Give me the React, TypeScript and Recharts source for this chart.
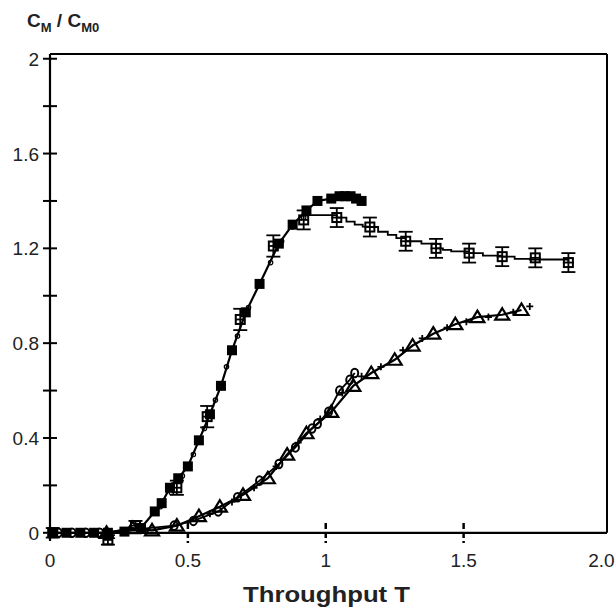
import React from 'react';
import {
  ComposedChart,
  Line,
  Scatter,
  XAxis,
  YAxis,
  ErrorBar,
  ReferenceLine,
} from 'recharts';

// filled squares (rising front, peak ~1.42)
const filledT = [0.01, 0.06, 0.11, 0.16, 0.21, 0.27, 0.33, 0.38, 0.405, 0.435, 0.465, 0.5, 0.54, 0.58, 0.62, 0.66, 0.71, 0.76, 0.83, 0.88, 0.93, 0.97, 1.02, 1.05, 1.07, 1.09, 1.11, 1.13];
const filledC = [0, 0, 0, 0, 0, 0.005, 0.02, 0.09, 0.125, 0.19, 0.23, 0.28, 0.39, 0.5, 0.62, 0.77, 0.93, 1.05, 1.22, 1.3, 1.36, 1.4, 1.41, 1.42, 1.42, 1.42, 1.41, 1.4];

// open squares with error bars
const openT = [0.01, 0.21, 0.31, 0.46, 0.57, 0.69, 0.81, 0.92, 1.04, 1.16, 1.29, 1.4, 1.52, 1.64, 1.76, 1.88];
const openC = [0, -0.03, 0.03, 0.19, 0.49, 0.9, 1.21, 1.32, 1.33, 1.29, 1.23, 1.2, 1.18, 1.165, 1.16, 1.14];
const openErrC = [0.02, 0.02, 0.02, 0.03, 0.045, 0.045, 0.045, 0.04, 0.04, 0.04, 0.04, 0.04, 0.04, 0.04, 0.04, 0.04];
const openErrT = [0.01, 0.015, 0.015, 0.015, 0.015, 0.015, 0.015, 0.015, 0.02, 0.02, 0.02, 0.02, 0.02, 0.02, 0.02, 0.02];

// stepped trace behind the open squares (plateau part)
const stepT = [0.92, 1.04, 1.075, 1.105, 1.134, 1.16, 1.19, 1.225, 1.256, 1.29, 1.347, 1.4, 1.425, 1.455, 1.52, 1.57, 1.64, 1.685, 1.74, 1.76, 1.88];
const stepC = [1.34, 1.33, 1.313, 1.3, 1.292, 1.29, 1.27, 1.257, 1.243, 1.23, 1.22, 1.2, 1.194, 1.187, 1.18, 1.169, 1.165, 1.156, 1.153, 1.153, 1.14];

// small open circles riding the first front
const trace1T = [0.4, 0.44, 0.48, 0.52, 0.56, 0.6, 0.64, 0.68, 0.72, 0.76, 0.8, 0.84, 0.88, 0.92];
const trace1C = [0.11, 0.17, 0.24, 0.33, 0.44, 0.56, 0.7, 0.83, 0.95, 1.05, 1.14, 1.23, 1.29, 1.33];

// open triangles (second front)
const triT = [0.205, 0.3, 0.37, 0.46, 0.54, 0.616, 0.7, 0.79, 0.86, 0.93, 1.02, 1.1, 1.165, 1.25, 1.315, 1.39, 1.47, 1.55, 1.64, 1.71];
const triC = [0.0, 0.02, 0.01, 0.03, 0.07, 0.11, 0.16, 0.23, 0.33, 0.42, 0.51, 0.62, 0.674, 0.73, 0.79, 0.84, 0.88, 0.91, 0.92, 0.94];

// open circles (second front)
const circT = [0.03, 0.08, 0.13, 0.18, 0.45, 0.52, 0.61, 0.68, 0.76, 0.83, 0.89, 0.95, 0.97, 1.01, 1.05, 1.087, 1.105];
const circC = [0, 0, 0, 0, 0.03, 0.05, 0.09, 0.15, 0.22, 0.29, 0.36, 0.44, 0.46, 0.51, 0.6, 0.645, 0.674];

// small crosses on the second front
const crossT = [0.58, 0.66, 0.74, 0.82, 0.9, 0.98, 1.06, 1.13, 1.2, 1.28, 1.35, 1.44, 1.51, 1.59, 1.68, 1.74];
const crossC = [0.08, 0.13, 0.19, 0.28, 0.38, 0.48, 0.59, 0.66, 0.7, 0.77, 0.82, 0.865, 0.89, 0.91, 0.93, 0.955];

const xTicks = [0, 0.5, 1, 1.5, 2];
const xTickLabels = ['0', '0.5', '1', '1.5', '2.0'];
const yTicks = [0, 0.2, 0.4, 0.6, 0.8, 1, 1.2, 1.4, 1.6, 1.8, 2];
const yTickLabels = ['0', '', '0.4', '', '0.8', '', '1.2', '', '1.6', '', '2'];

const zip = (t: number[], c: number[]) => t.map((v, i) => ({ t: v, c: c[i] }));

const filledData = zip(filledT, filledC);
const openData = openT.map((v, i) => ({ t: v, c: openC[i], ey: openErrC[i], ex: openErrT[i] }));
const stepData = zip(stepT, stepC);
const trace1Data = zip(trace1T, trace1C);
const triData = zip(triT, triC);
const circData = zip(circT, circC);
const crossData = zip(crossT, crossC);

const FONT = '"Liberation Sans", Arial, sans-serif';

const FilledSquare = (p: any) => (
  <rect x={p.cx - 5} y={p.cy - 5} width={10} height={10} fill="#000" />
);
const OpenSquare = (p: any) => (
  <rect x={p.cx - 4.5} y={p.cy - 4.5} width={9} height={9} fill="none" stroke="#000" strokeWidth={2} />
);
const Triangle = (p: any) => (
  <path
    d={`M${p.cx},${p.cy - 6.5} L${p.cx + 7},${p.cy + 5} L${p.cx - 7},${p.cy + 5} Z`}
    fill="none"
    stroke="#000"
    strokeWidth={2.2}
  />
);
const Circle = (p: any) => (
  <ellipse cx={p.cx} cy={p.cy} rx={3.5} ry={4.3} fill="none" stroke="#000" strokeWidth={2} />
);
const SmallCircle = (p: any) => (
  <circle cx={p.cx} cy={p.cy} r={2.2} fill="none" stroke="#000" strokeWidth={1.2} />
);
const Cross = (p: any) => (
  <path d={`M${p.cx - 3.5},${p.cy} H${p.cx + 3.5} M${p.cx},${p.cy - 3.5} V${p.cy + 3.5}`} stroke="#000" strokeWidth={1.8} />
);

const renderYTick = (props: any) => {
  const { x, y, payload } = props;
  const i = yTicks.indexOf(payload.value);
  return (
    <g>
      <line x1={x - 7} x2={x + 7} y1={y} y2={y} stroke="#000" strokeWidth={2} />
      {yTickLabels[i] ? (
        <text x={x - 11} y={y} dy={7} textAnchor="end" fontSize={19} fontFamily={FONT} fill="#222">
          {yTickLabels[i]}
        </text>
      ) : null}
    </g>
  );
};

const renderXTick = (props: any) => {
  const { x, y, payload } = props;
  const i = xTicks.indexOf(payload.value);
  const y0 = y - 14; // where C = 0 sits
  const inner = payload.value > 0 && payload.value < 2;
  return (
    <g>
      {inner ? (
        <line x1={x} x2={x} y1={y0 - 10} y2={y0 + 10} stroke="#000" strokeWidth={2.5} strokeDasharray="6 3" />
      ) : null}
      <text x={x} y={y0 + 34} textAnchor="middle" fontSize={19} fontFamily={FONT} fill="#222">
        {xTickLabels[i]}
      </text>
    </g>
  );
};

const renderXTitle = () => (
  <text x={326.5} y={602} textAnchor="middle" fontSize={22} fontWeight="bold" fontFamily={FONT} fill="#222" textLength={167} lengthAdjust="spacingAndGlyphs">
    Throughput T
  </text>
);

const renderYTitle = () => (
  <text x={27} y={27} fontSize={19} fontWeight="bold" fontFamily={FONT} fill="#222">
    C<tspan fontSize={13} dy={5}>M</tspan>
    <tspan fontSize={19} dy={-5}> / C</tspan>
    <tspan fontSize={13} dy={5}>M0</tspan>
  </text>
);

export default function App() {
  return (
    <div style={{ position: 'absolute', left: 0, top: 0, background: '#fff' }}>
      <ComposedChart width={615} height={608} margin={{ top: 54, right: 8, bottom: 60, left: 49 }}>
        <XAxis
          type="number"
          dataKey="t"
          domain={[0, 2.02]}
          ticks={xTicks}
          height={1}
          axisLine={false}
          tickLine={false}
          tickSize={0}
          tickMargin={0}
          interval={0}
          tick={renderXTick}
          label={renderXTitle}
        />
        <YAxis
          type="number"
          dataKey="c"
          domain={[-0.06, 2.02]}
          ticks={yTicks}
          width={1}
          axisLine={false}
          tickLine={false}
          tickSize={0}
          tickMargin={0}
          interval={0}
          tick={renderYTick}
          label={renderYTitle}
        />
        <ReferenceLine segment={[{ x: 0, y: -0.035 }, { x: 0, y: 2.02 }]} stroke="#000" strokeWidth={2.2} ifOverflow="visible" />
        <ReferenceLine segment={[{ x: 0, y: 0 }, { x: 2.02, y: 0 }]} stroke="#000" strokeWidth={2.2} ifOverflow="visible" />
        <ReferenceLine segment={[{ x: 0, y: 2.02 }, { x: 2.02, y: 2.02 }]} stroke="#000" strokeWidth={2} ifOverflow="visible" />
        <ReferenceLine segment={[{ x: 2.02, y: 0 }, { x: 2.02, y: 2.02 }]} stroke="#000" strokeWidth={2} ifOverflow="visible" />

        <Line data={filledData} dataKey="c" type="linear" stroke="#000" strokeWidth={2.2} dot={false} activeDot={false} isAnimationActive={false} />
        <Line data={stepData} dataKey="c" type="stepAfter" stroke="#000" strokeWidth={1.8} dot={false} activeDot={false} isAnimationActive={false} />
        <Line data={triData} dataKey="c" type="linear" stroke="#000" strokeWidth={2.2} dot={false} activeDot={false} isAnimationActive={false} />
        <Line data={circData} dataKey="c" type="linear" stroke="#000" strokeWidth={1.8} dot={false} activeDot={false} isAnimationActive={false} />

        <Scatter data={trace1Data} shape={SmallCircle} isAnimationActive={false} />
        <Scatter data={crossData} shape={Cross} isAnimationActive={false} />
        <Scatter data={circData} shape={Circle} isAnimationActive={false} />
        <Scatter data={triData} shape={Triangle} isAnimationActive={false} />
        <Scatter data={openData} shape={OpenSquare} isAnimationActive={false}>
          <ErrorBar dataKey="ey" direction="y" width={7} stroke="#000" strokeWidth={1.8} />
          <ErrorBar dataKey="ex" direction="x" width={0} stroke="#000" strokeWidth={1.8} />
        </Scatter>
        <Scatter data={filledData} shape={FilledSquare} isAnimationActive={false} />
      </ComposedChart>
    </div>
  );
}
